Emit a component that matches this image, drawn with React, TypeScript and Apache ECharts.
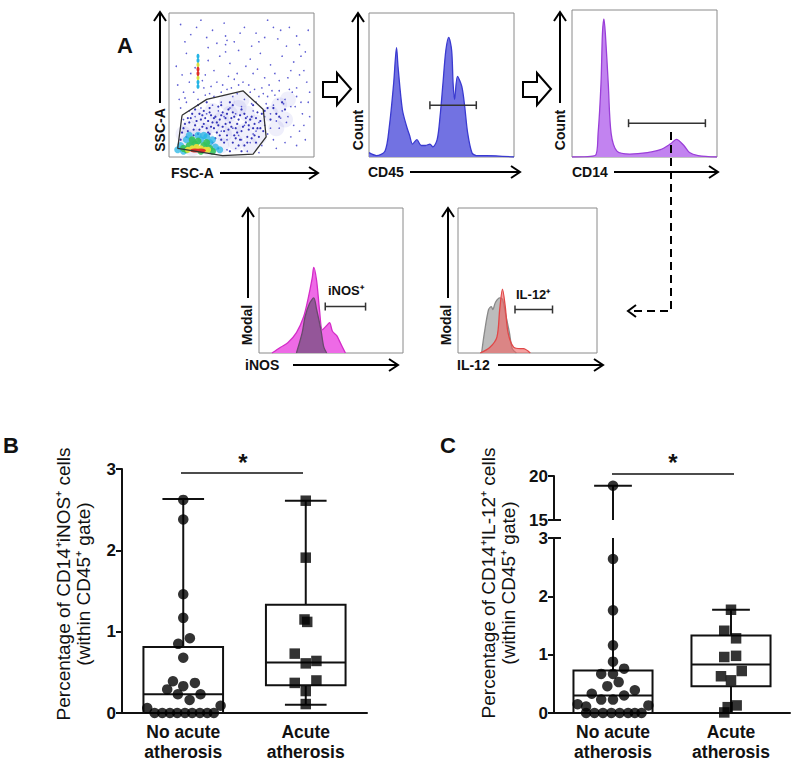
import React, { useEffect, useRef } from "react";
import * as echarts from "echarts";

// ---------- Panel A data (normalised 0-100 axes) ----------
const SCATTER_SPARSE: number[][] = [
  [8,92],[15,85],[22,95],[30,88],[38,93],[45,80],[52,90],[60,86],[68,95],[75,82],[83,90],[90,78],[96,88],
  [12,72],[27,76],[35,70],[42,65],[48,74],[56,68],[63,72],[70,64],[78,70],[86,66],[93,60],[5,63],[18,62],
  [31,60],[58,58],[66,55],[82,55],[88,48],[95,52],[39,84],[39,78],[39,73],[40,81],
  [6,50],[10,45],[14,52],[20,40],[24,48],[28,44],[33,52],[36,38],[40,47],[44,42],[48,50],[52,40],[56,45],
  [60,38],[64,48],[68,42],[72,36],[76,46],[80,40],[84,35],[88,42],[92,30],[96,38],[70,30],[74,25],[78,32],
  [82,28],[86,22],[90,18],[66,28],[62,24],[58,32],[54,28],[50,35],[46,30],[42,34],[38,28],[34,32],[30,36],
  [26,30],[22,34],[18,28],[14,32],[10,26],[12,38],[8,34],[36,18],[40,12],[44,20],[48,15],[52,22],[56,10],
  [60,18],[64,8],[68,16],[72,12],[76,20],[80,10],[84,14],[88,8],[94,12],[46,6],[54,4],[62,3],[40,5],
  [50,12],[58,16],[66,22],[74,6],[70,20],[79,37],[73,43],[85,45],[62,42],[57,37],[67,37],[77,27],[81,24],
  [15,58],[25,57],[47,58],[53,63],[73,58],[91,70],[11,80],[62,80],[77,88],[27,67],[45,54],[36,45],
  [19,90],[26,83],[33,79],[49,86],[57,77],[66,83],[72,90],[81,77],[88,84],[94,73],[9,57],[23,53],[29,49],
  [41,56],[51,52],[61,61],[69,50],[76,53],[84,60],[90,57],[97,45],[93,22],[97,28],[91,38],[87,35],[83,47],
  [75,40],[71,46],[65,44],[59,47],[55,50],[47,44],[43,48],[37,50],[31,42],[25,43],[17,45],[11,41],[7,40]
];
const SCATTER_BLUE: number[][] = [
  [10,20],[14,24],[18,22],[22,26],[26,20],[30,24],[34,22],[38,18],[42,24],[46,20],[50,18],[54,14],[58,20],
  [62,14],[16,30],[24,32],[32,28],[40,30],[48,26],[56,26],[64,30],[12,14],[20,16],[28,16],[36,12],[44,10],
  [52,8],[60,10],[30,10],[34,6],[42,4],[50,4],[26,38],[20,36],[36,36],[44,36],[8,12],[70,26],[74,30],[68,34],
  [27,25],[33,17],[39,23],[45,15],[23,21],[17,19],[52,30],[60,27],[9,17],[15,27],
  [11,23],[13,18],[19,25],[21,30],[25,27],[29,29],[31,20],[35,26],[37,31],[41,19],[43,27],[47,23],[49,29],
  [53,24],[55,19],[57,13],[59,23],[61,20],[63,25],[65,18],[38,10],[40,15],[46,13],[48,8],[54,10],[32,13],
  [24,23],[18,33],[28,34],[34,35],[42,38],[50,33],[58,36],[66,32],[72,34],[78,38],[76,28],[80,33],
  [13,27],[17,15],[21,19],[23,29],[27,17],[29,21],[31,27],[33,24],[35,15],[37,21],[39,27],[41,33],[43,21],
  [45,28],[47,17],[49,12],[51,21],[53,27],[55,22],[57,28],[59,15],[61,31],[63,20],[44,31],[36,29],[28,31]
];
const SCATTER_HAZE: number[][] = [
  [12,10],[18,14],[24,18],[30,22],[36,26],[42,30],[48,34],[54,30],[60,24],[62,14],[56,8],[46,10],[36,8],
  [28,6],[14,20],[20,28],[30,32],[40,38],[50,40],[44,20],[52,18],[38,16],[26,12],[16,6],[10,16],
  [70,30],[76,36],[82,40],[74,20],[80,26]
];
const SCATTER_CYAN: number[][] = [
  [8,8],[12,12],[16,11],[22,12],[28,10],[32,7],[20,15],[14,15],[26,14],[35,5],[10,4],[6,5],[30,12],[24,15]
];
const SCATTER_GREEN: number[][] = [[10,6],[14,8],[18,9],[24,8],[28,6],[12,5],[20,11],[16,12],[30,4],[26,10],[22,4]];
const SCATTER_YELLOW: number[][] = [[13,5],[16,6],[22,6],[25,5],[19,7],[27,5]];
const SCATTER_RED: number[][] = [[18,4.5],[22,4.5]];
const BLOB_CYAN: number[][] = [[20,49],[20,52],[20,67],[20,70]];
const BLOB_YELLOW: number[][] = [[20,55],[20,64]];
const BLOB_RED: number[][] = [[20,58],[20,61]];
const GATE: number[][] = [[9,29],[26,40],[51,46],[65,33],[67,14],[58,2],[37,1],[6,6],[9,29]];

const CD45_CURVE: number[][] = [
  [0,3],[5,1],[11,4],[14,21],[17,51],[19,76],[20,63],[23,33],[26,21],[28,15],[30,9],[33,12],[36,8],[39,8],
  [42,9],[44,7],[47,12],[49,28],[51,51],[53,74],[55,83],[57,74],[58,51],[59,40],[61,56],[64,49],[66,35],
  [68,17],[71,3],[74,1],[81,1],[100,0]
];
const CD14_CURVE: number[][] = [
  [0,0],[16,1],[18,16],[20,50],[21,84],[22,94],[23,84],[25,50],[27,16],[31,4],[40,2],[52,3],[61,5],[68,9],
  [72,12],[77,8],[81,3],[87,1],[100,0]
];
const INOS_POS: number[][] = [
  [9,0],[15,4],[20,7],[26,14],[31,25],[34,37],[37,52],[38,59],[40,50],[42,30],[44,16],[47,19],[49,21],
  [51,15],[54,12],[56,8],[60,0]
];
const INOS_CTRL: number[][] = [[26,0],[30,14],[32,25],[35,34],[38,38],[40,30],[43,16],[45,4],[47,0]];
const IL12_CTRL: number[][] = [
  [17,0],[19,14],[22,30],[24,32],[25,30],[27,35],[30,38],[32,37],[34,28],[37,14],[39,3],[42,0]
];
const IL12_POS: number[][] = [
  [16,0],[23,4],[28,11],[30,30],[32,44],[34,32],[36,14],[40,4],[45,3],[47,3],[52,0]
];
const GATE_CD45 = [42, 74, 36];
const GATE_CD14 = [39, 92, 23];
const GATE_INOS = [46, 74, 32];
const GATE_IL12 = [41, 68, 30];

// ---------- Panels B and C data ----------
const CATEGORIES = ["No acute\natherosis", "Acute\natherosis"];

const B_NOACUTE_VALUES = [2.62,2.38,1.46,1.17,0.92,0.85,0.68,0.39,0.37,0.33,0.29,0.23,0.23,0.16,0.09,0.06,0,0,0,0,0,0,0,0,0];
const B_NOACUTE_JITTER = [0,0,0,0,0.054,-0.041,0,-0.084,0.095,0,-0.131,-0.044,0.141,0.052,0.305,-0.294,-0.234,-0.171,-0.109,-0.049,0.014,0.073,0.136,0.196,0.25];
const B_ACUTE_VALUES = [2.61,1.91,1.15,1.12,0.73,0.64,0.61,0.40,0.37,0.27,0.11];
const B_ACUTE_JITTER = [0,0,-0.01,0.012,-0.09,0.087,0,0.087,-0.09,0,0];
// [x, min, q1, median, q3, max]
const B_BOXES = [[1, 0, 0, 0.23, 0.81, 2.63], [2, 0.10, 0.34, 0.62, 1.33, 2.61]];

const C_NOACUTE_VALUES = [18.9,2.64,1.76,1.16,0.88,0.76,0.67,0.67,0.53,0.46,0.39,0.33,0.30,0.23,0.23,0.15,0.13,0.11,0,0,0,0,0,0,0,0];
const C_NOACUTE_JITTER = [0,0,0,0,0,0.094,-0.1,0,0.048,-0.048,0.185,-0.18,0.094,-0.1,0,-0.3,0.3,-0.228,-0.228,-0.157,-0.085,-0.014,0.057,0.128,0.185,0.242];
const C_ACUTE_VALUES = [1.77,1.41,1.28,0.96,0.98,0.72,0.63,0.56,0.13,0.10,0.01];
const C_ACUTE_JITTER = [0,-0.057,0.043,-0.057,0.043,0.091,-0.085,0,0.048,-0.028,-0.057];
const C_BOXES = [[1, 0, 0, 0.30, 0.73, 18.9], [2, 0, 0.46, 0.83, 1.33, 1.77]];

const FONT = "'Liberation Sans', Arial, sans-serif";

function pts(values: number[], jitter: number[], center: number, lo: number, hi: number) {
  const out: number[][] = [];
  values.forEach((v, i) => {
    if (v >= lo && v <= hi) out.push([center + jitter[i], v]);
  });
  return out;
}

function boxRender(yMin: number, yMax: number, boxW: number, capW: number) {
  return (params: any, api: any) => {
    const x = api.value(0);
    const mn = api.value(1), q1 = api.value(2), md = api.value(3), q3 = api.value(4), mx = api.value(5);
    const cl = (v: number) => Math.max(yMin, Math.min(yMax, v));
    const P = (xx: number, v: number) => api.coord([xx, cl(v)]);
    const st = { stroke: "#111", lineWidth: 2, fill: null };
    const ch: any[] = [];
    const vline = (a: number, b: number) => {
      if (b < yMin || a > yMax || a === b) return;
      const p1 = P(x, a), p2 = P(x, b);
      ch.push({ type: "line", shape: { x1: p1[0], y1: p1[1], x2: p2[0], y2: p2[1] }, style: st });
    };
    const hline = (v: number, w: number) => {
      if (v < yMin || v > yMax) return;
      const p1 = P(x - w / 2, v), p2 = P(x + w / 2, v);
      ch.push({ type: "line", shape: { x1: p1[0], y1: p1[1], x2: p2[0], y2: p2[1] }, style: st });
    };
    vline(q3, mx);
    vline(mn, q1);
    if (q3 >= yMin && q1 <= yMax) {
      const a = P(x - boxW / 2, q3), b = P(x + boxW / 2, q1);
      ch.push({ type: "rect", shape: { x: a[0], y: a[1], width: b[0] - a[0], height: b[1] - a[1] }, style: st });
    }
    hline(md, boxW);
    hline(mx, capW);
    if (mn !== q1) hline(mn, capW);
    return { type: "group", children: ch };
  };
}

function arrow(x1: number, y1: number, x2: number, y2: number): any[] {
  const ang = Math.atan2(y2 - y1, x2 - x1);
  const L = 9, W = 6;
  const bx = x2 - L * Math.cos(ang), by = y2 - L * Math.sin(ang);
  const px = -Math.sin(ang) * W, py = Math.cos(ang) * W;
  return [
    { type: "line", shape: { x1, y1, x2, y2 }, style: { stroke: "#000", lineWidth: 2 } },
    { type: "polyline", shape: { points: [[bx + px, by + py], [x2, y2], [bx - px, by - py]] }, style: { stroke: "#000", lineWidth: 2, fill: null } },
  ];
}

function txt(text: string, x: number, y: number, size: number, bold: boolean, opts: any = {}): any {
  return {
    type: "text",
    x, y,
    rotation: opts.rot ? Math.PI / 2 : 0,
    style: {
      text, fontSize: size, fontFamily: FONT, fontWeight: bold ? "bold" : "normal", fill: "#111",
      textAlign: opts.align || (opts.rot ? "center" : "left"),
      textVerticalAlign: "middle",
    },
  };
}

function hiddenAxis(gridIndex: number, min: number, max: number) {
  return { type: "value", gridIndex, min, max, show: false, splitLine: { show: false } };
}

function histo(xi: number, data: number[][], line: string, area: string, opacity = 1, z = 2): any {
  return {
    type: "line", xAxisIndex: xi, yAxisIndex: xi, data, smooth: 0.3, symbol: "none", z,
    lineStyle: { color: line, width: 1.3 }, areaStyle: { color: area, opacity },
  };
}

function gateBar(xi: number, g: number[]): any {
  return {
    type: "line", xAxisIndex: xi, yAxisIndex: xi, z: 5,
    data: [[g[0], g[2]], [g[1], g[2]]],
    symbol: "rect", symbolSize: [1.5, 8],
    itemStyle: { color: "#333" }, lineStyle: { color: "#333", width: 1.5 },
  };
}

function scat(data: number[][], color: string, size: any, opacity = 1): any {
  return { type: "scatter", xAxisIndex: 0, yAxisIndex: 0, data, symbolSize: size, itemStyle: { color, opacity }, silent: true };
}

const App: React.FC = () => {
  const ref = useRef<HTMLDivElement>(null);
  useEffect(() => {
    document.body.style.margin = "0";
    if (!ref.current) return;
    const chart = echarts.init(ref.current, null, { renderer: "svg" });
    const tickFont = { fontFamily: FONT, fontWeight: "bold" as const, fontSize: 17, color: "#111" };
    const catFont = { fontFamily: FONT, fontWeight: "bold" as const, fontSize: 17.5, color: "#111" };
    const axisLine = { show: true, lineStyle: { color: "#111", width: 2 } };
    const yTick = { show: true, length: 6, lineStyle: { color: "#111", width: 2 } };
    const gridA = (left: number, top: number, width: number, height: number) => ({
      left, top, width, height, show: true, borderColor: "#8a8a8a", borderWidth: 1, backgroundColor: "transparent",
    });
    const option: any = {
      animation: false,
      backgroundColor: "#fff",
      grid: [
        gridA(169, 13, 145, 144),
        gridA(369, 13, 145, 144),
        gridA(572, 10, 145, 147),
        gridA(259, 208, 144, 145),
        gridA(458, 208, 139, 145),
        { left: 122, top: 469, width: 245, height: 244 },
        { left: 554, top: 476, width: 236, height: 44 },
        { left: 554, top: 538, width: 236, height: 175 },
      ],
      xAxis: [
        hiddenAxis(0, 0, 100), hiddenAxis(1, 0, 100), hiddenAxis(2, 0, 100), hiddenAxis(3, 0, 100), hiddenAxis(4, 0, 100),
        { type: "category", gridIndex: 5, data: CATEGORIES, boundaryGap: true, axisLine, axisTick: { show: false },
          axisLabel: { ...catFont, lineHeight: 20, margin: 9 } },
        hiddenAxis(5, 0.5, 2.5),
        hiddenAxis(6, 0.5, 2.5),
        { type: "category", gridIndex: 7, data: CATEGORIES, boundaryGap: true, axisLine, axisTick: { show: false },
          axisLabel: { ...catFont, lineHeight: 20, margin: 9 } },
        hiddenAxis(7, 0.5, 2.5),
      ],
      yAxis: [
        hiddenAxis(0, 0, 100), hiddenAxis(1, 0, 100), hiddenAxis(2, 0, 100), hiddenAxis(3, 0, 100), hiddenAxis(4, 0, 100),
        { type: "value", gridIndex: 5, min: 0, max: 3, interval: 1, axisLine, axisTick: yTick, splitLine: { show: false },
          axisLabel: { ...tickFont, margin: 6 } },
        { type: "value", gridIndex: 6, min: 15, max: 20, interval: 5, axisLine, axisTick: yTick, splitLine: { show: false },
          axisLabel: { ...tickFont, margin: 6 } },
        { type: "value", gridIndex: 7, min: 0, max: 3, interval: 1, axisLine, axisTick: yTick, splitLine: { show: false },
          axisLabel: { ...tickFont, margin: 6 } },
      ],
      series: [
        scat(SCATTER_HAZE, "#3030c8", 16, 0.08),
        scat(SCATTER_SPARSE, "#3535c8", 1.6, 0.8),
        scat(SCATTER_BLUE, "#2020b0", 2.2, 0.9),
        scat(SCATTER_CYAN, "#25b5e5", 7, 0.75),
        scat(SCATTER_GREEN, "#35c25a", 7, 0.9),
        scat(SCATTER_YELLOW, "#e8e03a", 6, 0.95),
        scat(SCATTER_RED, "#e0302a", [10, 4]),
        scat(BLOB_CYAN, "#25b5e5", [3, 5]),
        scat(BLOB_YELLOW, "#d8e040", [3, 5]),
        scat(BLOB_RED, "#e0302a", [3, 5]),
        { type: "line", xAxisIndex: 0, yAxisIndex: 0, data: GATE, symbol: "none", z: 6,
          lineStyle: { color: "#333", width: 1.3 } },
        histo(1, CD45_CURVE, "#3a3ad0", "#7272e2"),
        gateBar(1, GATE_CD45),
        histo(2, CD14_CURVE, "#9a3fd8", "#c283f0"),
        gateBar(2, GATE_CD14),
        histo(3, INOS_POS, "#d42cc8", "#ee6ae6"),
        histo(3, INOS_CTRL, "#6a4a6e", "#8c5592", 0.92, 3),
        gateBar(3, GATE_INOS),
        histo(4, IL12_CTRL, "#8a8a8a", "#bcbcbc"),
        histo(4, IL12_POS, "#e04848", "#f06060", 0.6, 3),
        gateBar(4, GATE_IL12),
        // Panel B
        { type: "custom", xAxisIndex: 6, yAxisIndex: 5, renderItem: boxRender(0, 3, 0.65, 0.34), data: B_BOXES, z: 3 },
        { type: "scatter", xAxisIndex: 6, yAxisIndex: 5, symbol: "circle", symbolSize: 10.5, z: 4,
          data: pts(B_NOACUTE_VALUES, B_NOACUTE_JITTER, 1, 0, 3), itemStyle: { color: "#000" } },
        { type: "scatter", xAxisIndex: 6, yAxisIndex: 5, symbol: "rect", symbolSize: 10.5, z: 4,
          data: pts(B_ACUTE_VALUES, B_ACUTE_JITTER, 2, 0, 3), itemStyle: { color: "#000" } },
        // Panel C upper
        { type: "custom", xAxisIndex: 7, yAxisIndex: 6, renderItem: boxRender(15, 20, 0.67, 0.32), data: C_BOXES, z: 3 },
        { type: "scatter", xAxisIndex: 7, yAxisIndex: 6, symbol: "circle", symbolSize: 10.5, z: 4,
          data: pts(C_NOACUTE_VALUES, C_NOACUTE_JITTER, 1, 15, 20), itemStyle: { color: "#000" } },
        // Panel C lower
        { type: "custom", xAxisIndex: 9, yAxisIndex: 7, renderItem: boxRender(0, 3, 0.67, 0.32), data: C_BOXES, z: 3 },
        { type: "scatter", xAxisIndex: 9, yAxisIndex: 7, symbol: "circle", symbolSize: 10.5, z: 4,
          data: pts(C_NOACUTE_VALUES, C_NOACUTE_JITTER, 1, 0, 3), itemStyle: { color: "#000" } },
        { type: "scatter", xAxisIndex: 9, yAxisIndex: 7, symbol: "rect", symbolSize: 10.5, z: 4,
          data: pts(C_ACUTE_VALUES, C_ACUTE_JITTER, 2, 0, 3), itemStyle: { color: "#000" } },
      ],
      graphic: [
        txt("A", 117, 45, 22, true),
        txt("B", 3, 445, 22, true),
        txt("C", 440, 445, 22, true),
        // axis labels panel A
        txt("SSC-A", 160, 130, 14, true, { rot: true }),
        txt("FSC-A", 171, 173, 14, true),
        txt("Count", 358, 130, 14, true, { rot: true }),
        txt("CD45", 368, 172, 14, true),
        txt("Count", 560, 130, 14, true, { rot: true }),
        txt("CD14", 572, 172, 14, true),
        txt("Modal", 247, 325, 14, true, { rot: true }),
        txt("iNOS", 245, 365, 14, true),
        txt("Modal", 446, 325, 14, true, { rot: true }),
        txt("IL-12", 457, 365, 14, true),
        txt("iNOS⁺", 328, 290, 13, true),
        txt("IL-12⁺", 516, 294, 13, true),
        ...arrow(160, 103, 160, 12),
        ...arrow(220, 173, 318, 173),
        ...arrow(358, 103, 358, 13),
        ...arrow(410, 172, 520, 172),
        ...arrow(560, 103, 560, 12),
        ...arrow(614, 172, 718, 172),
        ...arrow(248, 298, 248, 208),
        ...arrow(293, 365, 398, 365),
        ...arrow(448, 298, 448, 208),
        ...arrow(498, 365, 603, 365),
        // block arrows
        { type: "polygon", shape: { points: [[323,82],[337,82],[337,73],[351,89],[337,105],[337,97],[323,97]] },
          style: { fill: "#fff", stroke: "#000", lineWidth: 2 } },
        { type: "polygon", shape: { points: [[523,82],[537,82],[537,73],[551,89],[537,105],[537,97],[523,97]] },
          style: { fill: "#fff", stroke: "#000", lineWidth: 2 } },
        // dashed connector
        { type: "polyline", shape: { points: [[671,132],[671,311],[628,311]] },
          style: { stroke: "#000", lineWidth: 2, lineDash: [8, 5], fill: null }, z: 10 },
        { type: "polyline", shape: { points: [[636,305],[628,311],[636,317]] },
          style: { stroke: "#000", lineWidth: 2, fill: null }, z: 10 },
        // y titles
        txt("Percentage of CD14⁺iNOS⁺ cells", 63, 584, 19, false, { rot: true }),
        txt("(within CD45⁺ gate)", 83, 584, 19, false, { rot: true }),
        txt("Percentage of CD14⁺IL-12⁺ cells", 488, 583, 19, false, { rot: true }),
        txt("(within CD45⁺ gate)", 508, 583, 19, false, { rot: true }),
        // significance
        { type: "line", shape: { x1: 181, y1: 473, x2: 303, y2: 473 }, style: { stroke: "#111", lineWidth: 1.5 } },
        txt("*", 243, 462, 24, true, { align: "center" }),
        { type: "line", shape: { x1: 612, y1: 474, x2: 734, y2: 474 }, style: { stroke: "#111", lineWidth: 1.5 } },
        txt("*", 673, 462, 24, true, { align: "center" }),
        // axis break marks
        { type: "line", shape: { x1: 553, y1: 520, x2: 561, y2: 520 }, style: { stroke: "#111", lineWidth: 2 } },
        { type: "line", shape: { x1: 553, y1: 538, x2: 561, y2: 538 }, style: { stroke: "#111", lineWidth: 2 } },
      ],
    };
    chart.setOption(option);
    return () => chart.dispose();
  }, []);
  return <div ref={ref} style={{ width: 800, height: 765 }} />;
};

export default App;
